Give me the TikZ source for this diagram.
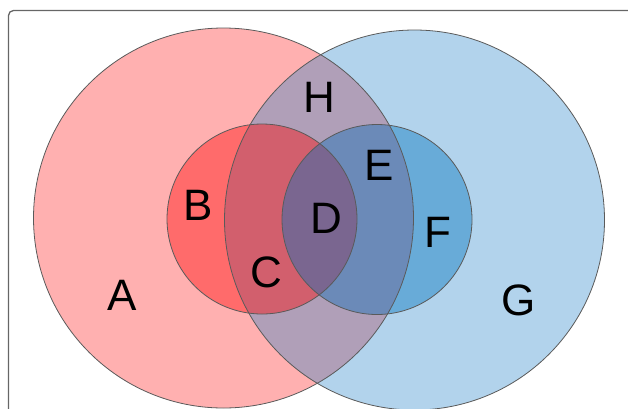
\documentclass[tikz,border=0pt]{standalone}
\usepackage{fontspec}
\setmainfont{Liberation Sans}
\definecolor{cA}{HTML}{FFB0B0}
\definecolor{cG}{HTML}{B2D3EC}
\definecolor{cB}{HTML}{FF6B6B}
\definecolor{cF}{HTML}{68ABD8}
\definecolor{cH}{HTML}{B09FB8}
\definecolor{cC}{HTML}{D25F6D}
\definecolor{cD}{HTML}{7A6690}
\definecolor{cE}{HTML}{6B8AB8}
\definecolor{edge}{HTML}{5A5A5A}
\begin{document}
\begin{tikzpicture}[x=1pt,y=-1pt,
  lbl/.style={inner sep=0pt,font=\fontsize{44}{44}\selectfont},
  outline/.style={draw=edge,line width=0.8pt}]
\useasboundingbox (0,0) rectangle (628,408);
% frame
\draw[draw=black!60,line width=1.3pt,rounded corners=5pt] (8.5,10.5) rectangle (660,440);
% regions
\def\bigR{(223.5,218) circle[radius=190]}
\def\bigB{(414.5,220) circle[radius=190]}
\def\smR{(262,219) circle[radius=95]}
\def\smB{(377,219.5) circle[radius=95]}
\fill[cA] \bigR;
\fill[cG] \bigB;
\begin{scope}\clip \bigR; \fill[cH] \bigB; \end{scope}
\fill[cB] \smR;
\begin{scope}\clip \bigB; \fill[cC] \smR; \end{scope}
\fill[cF] \smB;
\begin{scope}\clip \bigR; \fill[cE] \smB; \end{scope}
\begin{scope}\clip \smR; \fill[cD] \smB; \end{scope}
\draw[outline] \bigR;
\draw[outline] \bigB;
\draw[outline] \smR;
\draw[outline] \smB;
% labels
\node[lbl] (A) at (122,295) {A};
\node[lbl] (B) at (198,205) {B};
\node[lbl] (C) at (266,272.5) {C};
\node[lbl] (D) at (326,218) {D};
\node[lbl] (E) at (379,165) {E};
\node[lbl] (F) at (438,232.5) {F};
\node[lbl] (G) at (519,300.5) {G};
\node[lbl] (H) at (319,97.5) {H};
\end{tikzpicture}
\end{document}
